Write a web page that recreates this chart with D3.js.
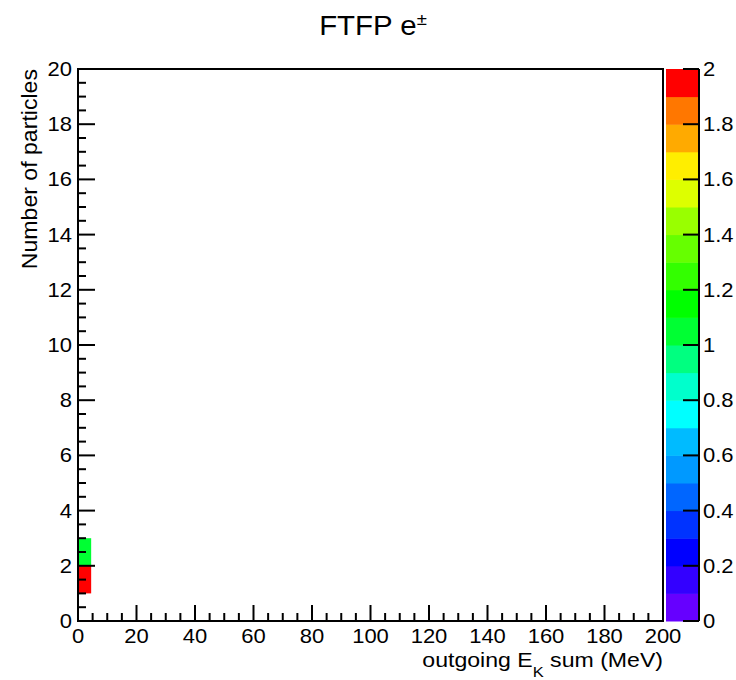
<!DOCTYPE html>
<html><head><meta charset="utf-8">
<script src="https://cdn.jsdelivr.net/npm/d3@7"></script>
<style>body{margin:0;background:#fff}svg{display:block}text{font-family:"Liberation Sans",Arial,Helvetica,sans-serif;fill:#000}</style>
</head><body>
<script>
// Data
const xBinEdges = [0, 4.5];         // MeV (bin of the filled cells)
const cellYLow = [1, 2];            // number of particles (bin lower edge)
const cellValues = [2, 1];          // counts
const xTicks = [0,20,40,60,80,100,120,140,160,180,200];
const yTicks = [0,2,4,6,8,10,12,14,16,18,20];
const zTicks = [0,0.2,0.4,0.6,0.8,1,1.2,1.4,1.6,1.8,2];
const bandColors = ["#6600ff","#3300ff","#0000ff","#0033ff","#0066ff","#0099ff","#00bbff","#00ffff","#00ffcc","#00ff80",
                    "#00ff33","#00ff00","#33ff00","#66ff00","#99ff00","#ddff00","#ffee00","#ffaa00","#ff7700","#ff3300"];
const bandColorsTop = "#ff0000";

const W = 736, H = 680;
const L = 78, R = 663, T = 69, B = 621;
const CBL = 666, CBR = 699;

const svg = d3.select("body").append("svg").attr("width", W).attr("height", H);

const x = d3.scaleLinear().domain([0, 200]).range([L, R]);
const y = d3.scaleLinear().domain([0, 20]).range([B, T]);
const z = d3.scaleLinear().domain([0, 2]).range([B, T]);

const nBands = 20;
const bands = d3.range(nBands).map(i => ({lo: i * 0.1, hi: (i + 1) * 0.1, c: i === nBands - 1 ? bandColorsTop : bandColors[i]}));
const colorOf = v => bands[Math.min(nBands - 1, Math.floor(v / 0.1 + 1e-9))].c;

// cells
svg.append("g").selectAll("rect").data(cellValues).join("rect")
  .attr("x", x(xBinEdges[0]))
  .attr("width", x(xBinEdges[1]) - x(xBinEdges[0]))
  .attr("y", (d, i) => y(cellYLow[i] + 1))
  .attr("height", (d, i) => y(cellYLow[i]) - y(cellYLow[i] + 1))
  .attr("fill", d => colorOf(d));

// frame
svg.append("rect").attr("x", L).attr("y", T).attr("width", R - L).attr("height", B - T)
  .attr("fill", "none").attr("stroke", "#000").attr("stroke-width", 2);

const SX = 1.1;
// x axis ticks
const xMinor = d3.range(0, 200.01, 5);
svg.append("g").selectAll("line").data(xMinor).join("line")
  .attr("x1", d => x(d)).attr("x2", d => x(d))
  .attr("y1", B).attr("y2", d => B - (d % 20 === 0 ? 16 : 8))
  .attr("stroke", "#000").attr("stroke-width", 2);
svg.append("g").selectAll("text").data(xTicks).join("text")
  .attr("transform", d => `translate(${x(d)},643) scale(${SX},1)`)
  .attr("text-anchor", "middle").attr("font-size", 20).text(d => d);

// y axis ticks
const yMinor = d3.range(0, 20.01, 0.5);
svg.append("g").selectAll("line").data(yMinor).join("line")
  .attr("y1", d => y(d)).attr("y2", d => y(d))
  .attr("x1", L).attr("x2", d => L + (d % 2 === 0 ? 17 : 8))
  .attr("stroke", "#000").attr("stroke-width", 2);
svg.append("g").selectAll("text").data(yTicks).join("text")
  .attr("transform", d => `translate(72,${y(d) + 7}) scale(${SX},1)`)
  .attr("text-anchor", "end").attr("font-size", 20).text(d => d);

// colorbar
svg.append("g").selectAll("rect").data(bands).join("rect")
  .attr("x", CBL).attr("width", CBR - CBL)
  .attr("y", d => z(d.hi)).attr("height", d => z(d.lo) - z(d.hi) + 0.5)
  .attr("fill", d => d.c);
svg.append("line").attr("x1", CBR).attr("x2", CBR).attr("y1", T).attr("y2", B)
  .attr("stroke", "#000").attr("stroke-width", 2);
svg.append("g").selectAll("line").data(zTicks).join("line")
  .attr("y1", d => z(d)).attr("y2", d => z(d))
  .attr("x1", CBR - 16).attr("x2", CBR)
  .attr("stroke", "#000").attr("stroke-width", 2);
svg.append("g").selectAll("text").data(zTicks).join("text")
  .attr("transform", d => `translate(703,${z(d) + 7}) scale(${SX},1)`)
  .attr("text-anchor", "start").attr("font-size", 20).text(d => d3.format("~g")(d));

// title
svg.append("text").attr("transform", "translate(373,35) scale(1.09,1)").attr("text-anchor", "middle")
  .attr("font-size", 27)
  .html('FTFP e<tspan dy="-10" font-size="17">±</tspan>');

// x title
svg.append("text").attr("transform", `translate(${R},667) scale(1.1,1)`).attr("text-anchor", "end").attr("font-size", 21)
  .html('outgoing E<tspan dy="10" font-size="15">K</tspan><tspan dy="-10"> sum (MeV)</tspan>');

// y title
svg.append("text").attr("transform", `translate(37,${T}) rotate(-90) scale(1.05,1)`)
  .attr("text-anchor", "end").attr("font-size", 22).text("Number of particles");
</script>
</body></html>
